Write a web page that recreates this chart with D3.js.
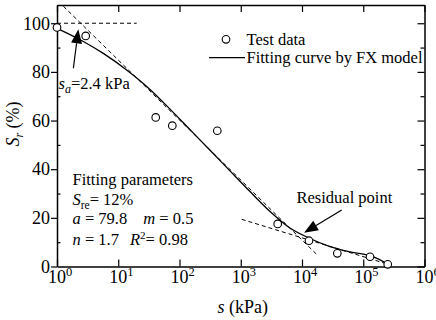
<!DOCTYPE html>
<html>
<head>
<meta charset="utf-8">
<script src="https://cdn.jsdelivr.net/npm/d3@7"></script>
<style>
body{margin:0;background:#fff}
svg text{fill:#000}
</style>
</head>
<body>
<svg id="chart"></svg>
<script>
// test data (suction s in kPa, degree of saturation Sr in %)
const testS  = [1, 2.94, 40.9, 76.3, 414, 4010, 13000, 37700, 129000, 251000];
const testSr = [98.3, 94.8, 61.3, 57.9, 55.8, 17.5, 10.6, 5.4, 4.0, 0.9];

// fitting curve
const fitS  = [1, 2.69, 5.7, 13.7, 33, 70, 148, 315, 667, 1416, 3006, 6370, 13500, 28650, 60800, 144000, 253000];
const fitSr = [97.9, 92.5, 87.6, 80.8, 72.8, 64.7, 56.3, 47.8, 39.3, 30.8, 22.6, 15.8, 11.5, 8.2, 6.0, 4.1, 1.0];

// construction lines (dashed)
const flatS = [1, 20],        flatSr = [100, 100];
const tanS  = [1.27, 18500],  tanSr  = [107, 4.3];
const resS  = [1036, 263000], resSr  = [19.4, 0.8];

// arrows: [tail, tip]
const arrowAS  = [1.85, 2.23],    arrowASr  = [81.5, 97.5];
const arrowBS  = [44500, 10800],  arrowBSr  = [23.2, 13.9];

// ticks
const xTicks = [1, 10, 100, 1000, 1e4, 1e5, 1e6];
const xExp   = ["0", "1", "2", "3", "4", "5", "6"];
const yMajor = [0, 20, 40, 60, 80, 100];
const yMinor = [10, 30, 50, 70, 90];

const W = 436, H = 320;
const FONT = "'Times New Roman', Times, 'Liberation Serif', Tinos, 'Nimbus Roman', 'Noto Serif', 'DejaVu Serif', FreeSerif, serif";
const svg = d3.select("#chart").attr("width", W).attr("height", H).style("font-family", FONT);

const x = d3.scaleLog().domain([1, 1e6]).range([57, 424.5]);
const y = d3.scaleLinear().domain([0, 107.5]).range([266.5, 5]);

function styleAxis(g){
  g.attr("font-family", null);
  g.selectAll(".domain").attr("stroke", "#000").attr("stroke-width", 1.5);
  g.selectAll(".tick line").attr("stroke", "#000").attr("stroke-width", 1.2);
}

// bottom & top (ticks inward)
svg.append("g").attr("transform", "translate(0," + y(0) + ")")
  .call(d3.axisBottom(x).tickValues(xTicks).tickSize(-7).tickSizeOuter(0).tickFormat(""))
  .call(styleAxis);
svg.append("g").attr("transform", "translate(0," + y(107.5) + ")")
  .call(d3.axisTop(x).tickValues(xTicks).tickSize(-7).tickSizeOuter(0).tickFormat(""))
  .call(styleAxis);

// left: majors outward with labels, minors inward
const left = svg.append("g").attr("transform", "translate(" + x(1) + ",0)")
  .call(d3.axisLeft(y).tickValues(yMajor).tickSize(6).tickPadding(1).tickSizeOuter(0).tickFormat(d3.format("d")))
  .call(styleAxis);
left.selectAll("text").attr("font-size", 18);
svg.append("g").attr("transform", "translate(" + x(1) + ",0)")
  .call(d3.axisLeft(y).tickValues(yMinor).tickSize(-3.5).tickSizeOuter(0).tickFormat(""))
  .call(g => g.select(".domain").remove())
  .call(styleAxis);

// right: all inward
svg.append("g").attr("transform", "translate(" + x(1e6) + ",0)")
  .call(d3.axisRight(y).tickValues(yMajor).tickSize(-7).tickSizeOuter(0).tickFormat(""))
  .call(styleAxis);
svg.append("g").attr("transform", "translate(" + x(1e6) + ",0)")
  .call(d3.axisRight(y).tickValues(yMinor).tickSize(-4).tickSizeOuter(0).tickFormat(""))
  .call(g => g.select(".domain").remove())
  .call(styleAxis);

// x tick labels 10^n
const xl = svg.append("g").selectAll("text").data(xTicks).enter().append("text")
  .attr("x", d => x(d) - 9).attr("y", 283).attr("font-size", 18);
xl.append("tspan").text("10");
xl.append("tspan").attr("font-size", 12.5).attr("dy", -7).text((d, i) => xExp[i]);

// axis titles
const xt = svg.append("text").attr("x", (x(1) + x(1e6)) / 2 + 2).attr("y", 313)
  .attr("text-anchor", "middle").attr("font-size", 18);
xt.append("tspan").attr("font-style", "italic").text("s");
xt.append("tspan").text(" (kPa)");

const yt = svg.append("text").attr("transform", "translate(19,124) rotate(-90)")
  .attr("text-anchor", "middle").attr("font-size", 18);
yt.append("tspan").attr("font-style", "italic").text("S");
yt.append("tspan").attr("font-size", 12).attr("font-style", "italic").attr("dy", 4).text("r");
yt.append("tspan").attr("dy", -4).text(" (%)");

// dashed construction lines
const seg = d3.line().x(d => x(d[0])).y(d => y(d[1]));
[[flatS, flatSr], [tanS, tanSr], [resS, resSr]].forEach(function(p){
  svg.append("path").attr("d", seg(d3.zip(p[0], p[1])))
    .attr("fill", "none").attr("stroke", "#000").attr("stroke-width", 1)
    .attr("stroke-dasharray", "4,3");
});

// fitting curve
svg.append("path")
  .attr("d", d3.line().curve(d3.curveMonotoneX).x(d => x(d[0])).y(d => y(d[1]))(d3.zip(fitS, fitSr)))
  .attr("fill", "none").attr("stroke", "#000").attr("stroke-width", 1.3);

// test data
svg.append("g").selectAll("circle").data(d3.zip(testS, testSr)).enter().append("circle")
  .attr("cx", d => x(d[0])).attr("cy", d => y(d[1])).attr("r", 3.8)
  .attr("fill", "#fff").attr("stroke", "#000").attr("stroke-width", 1.1);

// arrows
function arrow(sArr, srArr){
  const x0 = x(sArr[0]), y0 = y(srArr[0]), x1 = x(sArr[1]), y1 = y(srArr[1]);
  const dx = x1 - x0, dy = y1 - y0, len = Math.hypot(dx, dy);
  const ux = dx / len, uy = dy / len, hl = 14, hw = 5.5;
  const bx = x1 - ux * hl, by = y1 - uy * hl;
  svg.append("line").attr("x1", x0).attr("y1", y0).attr("x2", bx).attr("y2", by)
    .attr("stroke", "#000").attr("stroke-width", 1.2);
  svg.append("path")
    .attr("d", "M" + x1 + "," + y1 + "L" + (bx - uy * hw) + "," + (by + ux * hw) + "L" + (bx + uy * hw) + "," + (by - ux * hw) + "Z")
    .attr("fill", "#000");
}
arrow(arrowAS, arrowASr);
arrow(arrowBS, arrowBSr);

// annotation texts
const fs = 16.5;
const sa = svg.append("text").attr("x", 58.5).attr("y", 88.5).attr("font-size", fs);
sa.append("tspan").attr("font-style", "italic").text("s");
sa.append("tspan").attr("font-style", "italic").attr("font-size", 12).attr("dy", 4).text("a");
sa.append("tspan").attr("dy", -4).text("=2.4 kPa");

svg.append("text").attr("x", 296.5).attr("y", 203).attr("font-size", fs).text("Residual point");

// legend
svg.append("circle").attr("cx", 226).attr("cy", 39.3).attr("r", 3.8)
  .attr("fill", "#fff").attr("stroke", "#000").attr("stroke-width", 1.1);
svg.append("text").attr("x", 246.5).attr("y", 44.5).attr("font-size", fs).text("Test data");
svg.append("line").attr("x1", 209).attr("x2", 245).attr("y1", 57.7).attr("y2", 57.7)
  .attr("stroke", "#000").attr("stroke-width", 1.3);
svg.append("text").attr("x", 246.5).attr("y", 62.5).attr("font-size", fs).text("Fitting curve by FX model");

// fitting parameters
const sre = 12, pa = 79.8, pm = 0.5, pn = 1.7, r2 = 0.98;
svg.append("text").attr("x", 72.5).attr("y", 185).attr("font-size", fs).text("Fitting parameters");
const t1 = svg.append("text").attr("x", 72.5).attr("y", 205).attr("font-size", fs);
t1.append("tspan").attr("font-style", "italic").text("S");
t1.append("tspan").attr("font-size", 11.5).attr("dy", 4).text("re");
t1.append("tspan").attr("dy", -4).text("= " + sre + "%");
const t2 = svg.append("text").attr("x", 72.5).attr("y", 224).attr("font-size", fs);
t2.append("tspan").attr("font-style", "italic").text("a");
t2.append("tspan").text(" = " + pa);
const t3 = svg.append("text").attr("x", 143.3).attr("y", 224).attr("font-size", fs);
t3.append("tspan").attr("font-style", "italic").text("m");
t3.append("tspan").text(" = " + pm);
const t4 = svg.append("text").attr("x", 72.5).attr("y", 245).attr("font-size", fs);
t4.append("tspan").attr("font-style", "italic").text("n");
t4.append("tspan").text(" = " + pn);
const t5 = svg.append("text").attr("x", 130).attr("y", 245).attr("font-size", fs);
t5.append("tspan").attr("font-style", "italic").text("R");
t5.append("tspan").attr("font-size", 11).attr("dy", -6).text("2");
t5.append("tspan").attr("dy", 6).text("= " + r2);
</script>
</body>
</html>
